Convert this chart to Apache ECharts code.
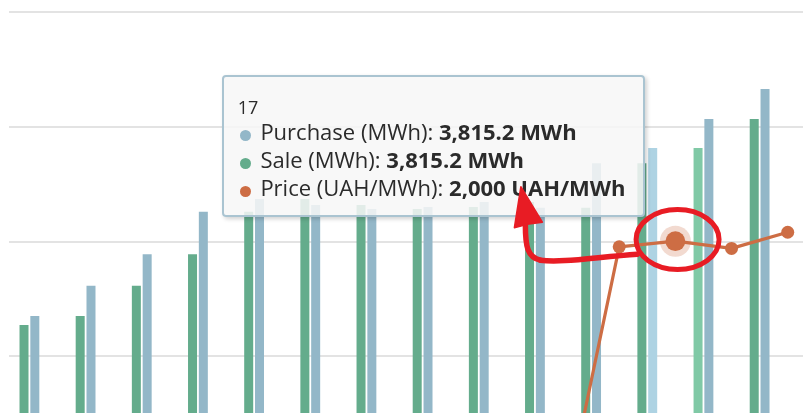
<!DOCTYPE html>
<html>
<head>
<meta charset="utf-8">
<script src="https://cdn.jsdelivr.net/npm/echarts@6/dist/echarts.min.js"></script>
<style>
  html, body { margin: 0; padding: 0; background: #ffffff; }
  #chart, #marks { position: absolute; left: 0; top: 0; width: 803px; height: 413px; }
  #marks { z-index: 2147483647; pointer-events: none; }
</style>
</head>
<body>
<div id="chart"></div>
<div id="marks"></div>
<script>
// Hourly energy balance: purchased and sold volume, plus the hourly price
const hours = ['5', '6', '7', '8', '9', '10', '11', '12', '13', '14', '15', '16', '17', '18', '19'];
const purchase = [2272, 2350, 2615, 2888, 3260, 3370, 3318, 3283, 3301, 3344, 3295, 3682, 3815.2, 4068, 4330];
const sale = [2272, 2350, 2615, 2888, 3260, 3370, 3318, 3283, 3301, 3344, 3295, 3682, 3815.2, 4068, 4330];
const price = [null, null, null, null, null, null, null, null, null, null, 405, 1967, 2000, 1958, 2052];
const activeHour = '17';

const seriesNames = ['Purchase (MWh)', 'Sale (MWh)', 'Price (UAH/MWh)'];
const seriesUnits = ['MWh', 'MWh', 'UAH/MWh'];
const seriesColors = ['#93b7c8', '#64ac8c', '#cd6d44'];
const activeColors = ['#aed3e3', '#80c9a6', '#cd6d44'];

const activeIdx = hours.indexOf(activeHour);

const chart = echarts.init(document.getElementById('chart'), null, { renderer: 'canvas' });

function fmt(v) {
  return v.toLocaleString('en-US', { maximumFractionDigits: 1 });
}

function tooltipHtml(params) {
  const font = "'Open Sans', 'Noto Sans', sans-serif";
  let html = '<div style="box-sizing:border-box;width:419px;height:138px;padding:20.8px 0 0 13.7px;' +
    'font-family:' + font + ';color:#2b2b2b;">';
  html += '<div style="font-size:18px;line-height:19px;">' + params[0].axisValue + '</div>';
  params.forEach(function (p) {
    if (p.value == null) return;
    html += '<div style="font-size:22px;line-height:28px;white-space:nowrap;">' +
      '<span style="display:inline-block;width:11px;height:11px;border-radius:50%;vertical-align:-1px;' +
      'margin:0 9.4px 0 2.3px;background:' + seriesColors[p.seriesIndex] + ';"></span>' +
      p.seriesName + ': <b>' + fmt(p.value) + ' ' + seriesUnits[p.seriesIndex] + '</b></div>';
  });
  html += '</div>';
  return html;
}

chart.setOption({
  animation: false,
  backgroundColor: '#ffffff',
  grid: {
    left: -26.75,
    right: -12.8,
    top: 12.2,
    bottom: -172.5,
    containLabel: false,
    outerBoundsMode: 'none'
  },
  tooltip: {
    trigger: 'axis',
    triggerOn: 'none',
    alwaysShowContent: true,
    transitionDuration: 0,
    axisPointer: { type: 'none', triggerEmphasis: false },
    position: [222, 75],
    padding: 0,
    backgroundColor: 'rgba(247,247,247,0.86)',
    borderColor: '#aac4d1',
    borderWidth: 2,
    extraCssText: 'border-radius:4px;box-shadow:2px 2px 4px rgba(0,0,0,0.18);',
    formatter: tooltipHtml
  },
  xAxis: {
    type: 'category',
    data: hours,
    axisLine: { show: false },
    axisTick: { show: false },
    axisLabel: { show: false }
  },
  yAxis: [
    {
      type: 'value',
      min: 0,
      max: 5000,
      interval: 1000,
      axisLine: { show: false },
      axisTick: { show: false },
      axisLabel: { show: false },
      splitLine: { lineStyle: { color: '#e3e3e3', width: 2 } }
    },
    {
      type: 'value',
      min: 0,
      max: 3330,
      show: false,
      splitLine: { show: false }
    }
  ],
  series: [
    {
      name: seriesNames[0],
      type: 'bar',
      data: purchase,
      barWidth: 9,
      barGap: '404%',
      emphasis: { disabled: true },
      itemStyle: {
        color: function (p) { return p.dataIndex === activeIdx ? activeColors[0] : seriesColors[0]; }
      }
    },
    {
      name: seriesNames[1],
      type: 'bar',
      data: sale,
      barWidth: 9,
      barGap: '404%',
      emphasis: { disabled: true },
      itemStyle: {
        color: function (p) { return p.dataIndex === activeIdx ? activeColors[1] : seriesColors[1]; }
      }
    },
    {
      name: seriesNames[2],
      type: 'line',
      yAxisIndex: 1,
      data: price,
      symbol: 'circle',
      showAllSymbol: true,
      symbolSize: function (v, p) { return p.dataIndex === activeIdx ? 18 : 13; },
      lineStyle: { color: seriesColors[2], width: 3.2 },
      itemStyle: { color: seriesColors[2] },
      emphasis: { disabled: true },
      markPoint: {
        z: 1,
        silent: true,
        symbol: 'circle',
        symbolSize: 31,
        itemStyle: { color: 'rgba(205,109,68,0.25)' },
        label: { show: false },
        data: [{ coord: [activeIdx, price[activeIdx]] }]
      }
    }
  ],
  graphic: [
    // trim the grid lines so they start just inside the left edge
    { type: 'rect', left: 0, top: 0, shape: { width: 9, height: 413 }, style: { fill: '#ffffff' }, z: 100, silent: true }
  ]
});

chart.dispatchAction({ type: 'showTip', seriesIndex: 0, dataIndex: activeIdx });

// Red callout: ring around the active price point and an arrow up to its tooltip value
const pt = chart.convertToPixel({ seriesIndex: 2 }, [activeIdx, price[activeIdx]]);
const px = pt[0], py = pt[1];
const red = '#e81c24';
const stroke = { fill: null, stroke: red, lineWidth: 5.5, lineCap: 'round' };
const marks = echarts.init(document.getElementById('marks'), null, { renderer: 'canvas' });
marks.setOption({
  animation: false,
  graphic: [
    {
      type: 'ellipse',
      shape: { cx: px + 2.2, cy: py - 1.6, rx: 41.5, ry: 30 },
      style: { fill: null, stroke: red, lineWidth: 5 }
    },
    {
      type: 'bezierCurve',
      shape: {
        x1: px - 38, y1: py + 13,
        cpx1: px - 80, cpy1: py + 16,
        cpx2: px - 115, cpy2: py + 22,
        x2: px - 135, y2: py + 19
      },
      style: stroke
    },
    {
      type: 'bezierCurve',
      shape: {
        x1: px - 135, y1: py + 19,
        cpx1: px - 148, cpy1: py + 16,
        cpx2: px - 150, cpy2: py + 5,
        x2: px - 150, y2: py - 16
      },
      style: stroke
    },
    {
      type: 'polygon',
      shape: {
        points: [
          [px - 154.5, py - 54.5],
          [px - 133, py - 19],
          [px - 148, py - 17],
          [px - 161, py - 13.5]
        ]
      },
      style: { fill: red, stroke: red, lineWidth: 1.5, lineJoin: 'round' }
    }
  ]
});
</script>
</body>
</html>
